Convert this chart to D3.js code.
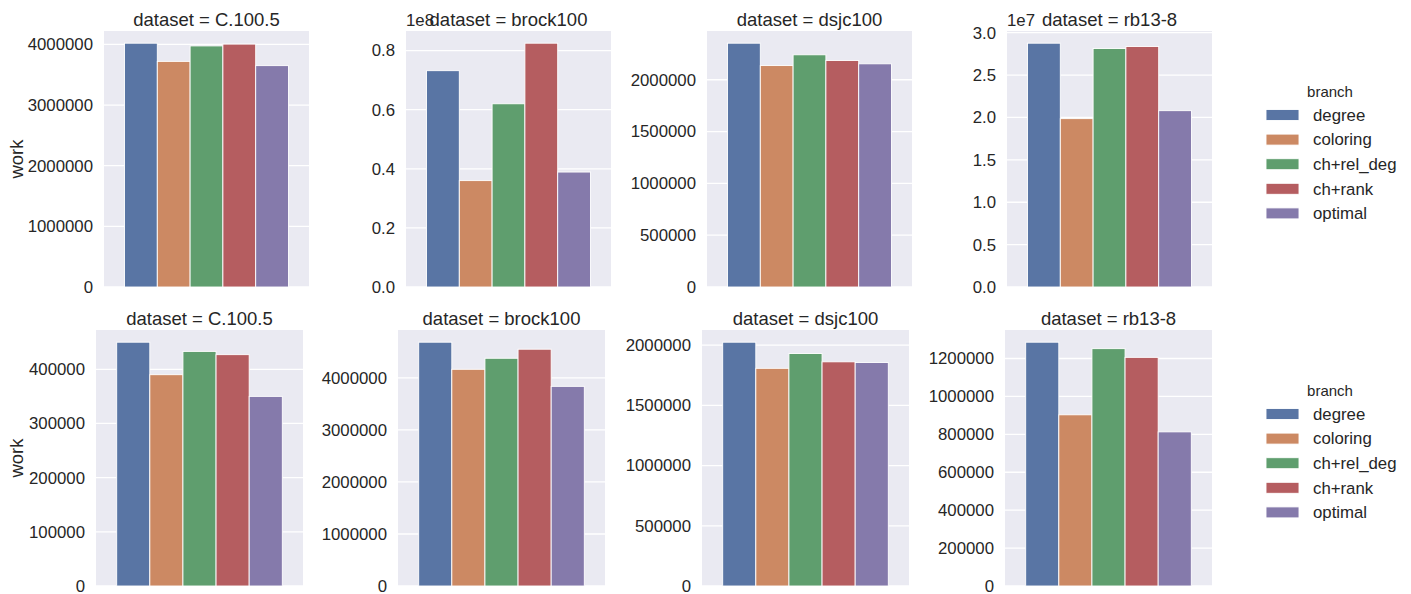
<!DOCTYPE html>
<html>
<head>
<meta charset="utf-8">
<script src="https://cdn.jsdelivr.net/npm/d3@7"></script>
<style>
  html, body { margin: 0; padding: 0; background: #ffffff; }
  text { font-family: "Liberation Sans", Arial, sans-serif; fill: #262626; }
</style>
</head>
<body>
<svg id="chart" width="1411" height="594"></svg>
<script>
// Branching strategies (hue) and their colours
const branches = ["degree", "coloring", "ch+rel_deg", "ch+rank", "optimal"];
const branchColors = ["#5975a4", "#cc8963", "#5f9e6e", "#b55d60", "#857aab"];

// Datasets shown in each row of facets
const datasets = ["C.100.5", "brock100", "dsjc100", "rb13-8"];

// Work per branching strategy, first row of facets
const workTopC1005   = [4020000, 3720000, 3975000, 4005000, 3650000];
const workTopBrock   = [73200000, 36000000, 62000000, 82500000, 38900000];
const workTopDsjc    = [2353000, 2137000, 2241000, 2186000, 2154000];
const workTopRb138   = [28760000, 19860000, 28130000, 28370000, 20800000];

// Work per branching strategy, second row of facets
const workBotC1005   = [450000, 390000, 433000, 427000, 350000];
const workBotBrock   = [4687000, 4166000, 4378000, 4552000, 3838000];
const workBotDsjc    = [2025000, 1808000, 1931000, 1862000, 1856000];
const workBotRb138   = [1286000, 903000, 1252000, 1206000, 813000];

// Tick values for each facet's y axis
const ticksTopC1005 = [0, 1000000, 2000000, 3000000, 4000000];
const ticksTopBrock = [0, 20000000, 40000000, 60000000, 80000000];
const ticksTopDsjc  = [0, 500000, 1000000, 1500000, 2000000];
const ticksTopRb138 = [0, 5000000, 10000000, 15000000, 20000000, 25000000, 30000000];
const ticksBotC1005 = [0, 100000, 200000, 300000, 400000];
const ticksBotBrock = [0, 1000000, 2000000, 3000000, 4000000];
const ticksBotDsjc  = [0, 500000, 1000000, 1500000, 2000000];
const ticksBotRb138 = [0, 200000, 400000, 600000, 800000, 1000000, 1200000];

// Offset exponents shown above an axis (null = plain integers)
const expTop = [null, 8, null, 7];
const expBot = [null, null, null, null];

const svg = d3.select("#chart");

// Facet grid geometry
const rows = [
  { top: 31, bottom: 287, lefts: [104, 406, 707, 1007], width: 205,
    values: [workTopC1005, workTopBrock, workTopDsjc, workTopRb138],
    ticks: [ticksTopC1005, ticksTopBrock, ticksTopDsjc, ticksTopRb138],
    exps: expTop, legendY: 92 },
  { top: 330, bottom: 586, lefts: [96, 398, 702, 1005], width: 207,
    values: [workBotC1005, workBotBrock, workBotDsjc, workBotRb138],
    ticks: [ticksBotC1005, ticksBotBrock, ticksBotDsjc, ticksBotRb138],
    exps: expBot, legendY: 391 }
];

rows.forEach(row => {
  row.lefts.forEach((left, i) => {
    const vals = row.values[i];
    const w = row.width;
    const g = svg.append("g").attr("transform", `translate(${left},0)`);

    const y = d3.scaleLinear()
      .domain([0, d3.max(vals) * 1.05])
      .range([row.bottom, row.top]);

    // The single x category spans [-0.5, 0.5]; bars fill the central 80%
    const x = d3.scaleBand()
      .domain(branches)
      .range([w * 0.1, w * 0.9])
      .paddingInner(0);

    // Axes background
    g.append("rect")
      .attr("x", 0).attr("y", row.top)
      .attr("width", w).attr("height", row.bottom - row.top)
      .attr("fill", "#eaeaf2");

    // Horizontal gridlines
    g.selectAll("line.grid")
      .data(row.ticks[i])
      .join("line")
      .attr("class", "grid")
      .attr("x1", 0).attr("x2", w)
      .attr("y1", d => y(d)).attr("y2", d => y(d))
      .attr("stroke", "#ffffff")
      .attr("stroke-width", 1.3);

    // Bars
    g.selectAll("rect.bar")
      .data(vals.map((v, k) => ({ branch: branches[k], value: v, color: branchColors[k] })))
      .join("rect")
      .attr("class", "bar")
      .attr("x", d => x(d.branch))
      .attr("width", x.bandwidth())
      .attr("y", d => y(d.value))
      .attr("height", d => y(0) - y(d.value))
      .attr("fill", d => d.color)
      .attr("stroke", "#ffffff")
      .attr("stroke-width", 0.9);

    // Y axis tick labels
    const exp = row.exps[i];
    const fmt = exp ? (d => (d / Math.pow(10, exp)).toFixed(1)) : d3.format("d");
    const axis = d3.axisLeft(y)
      .tickValues(row.ticks[i])
      .tickSize(0)
      .tickPadding(11)
      .tickFormat(fmt);
    const ax = g.append("g").call(axis);
    ax.select(".domain").remove();
    ax.selectAll("text")
      .attr("font-size", "16.8px")
      .attr("fill", "#262626")
      .style("font-family", '"Liberation Sans", Arial, sans-serif');

    // Axis offset text (scientific multiplier)
    if (exp) {
      g.append("text")
        .attr("x", 0).attr("y", row.top - 5)
        .attr("font-size", "16.8px")
        .text("1e" + exp);
    }

    // Facet title
    g.append("text")
      .attr("x", w / 2).attr("y", row.top - 5)
      .attr("text-anchor", "middle")
      .attr("font-size", "18.5px")
      .text("dataset = " + datasets[i]);

    // Y label on first column only
    if (i === 0) {
      const cy = (row.top + row.bottom) / 2;
      svg.append("text")
        .attr("transform", `translate(${23},${cy}) rotate(-90)`)
        .attr("text-anchor", "middle")
        .attr("font-size", "18.5px")
        .text("work");
    }
  });

  // Legend for the row
  const lg = svg.append("g").attr("transform", `translate(0,${row.legendY})`);
  lg.append("text")
    .attr("x", 1330).attr("y", 0)
    .attr("dy", "0.35em")
    .attr("text-anchor", "middle")
    .attr("font-size", "15px")
    .text("branch");
  branches.forEach((b, k) => {
    const cy = 23 + k * 24.6;
    lg.append("rect")
      .attr("x", 1266).attr("y", cy - 5.5)
      .attr("width", 33).attr("height", 11)
      .attr("fill", branchColors[k])
      .attr("stroke", "#ffffff")
      .attr("stroke-width", 0.9);
    lg.append("text")
      .attr("x", 1313).attr("y", cy)
      .attr("dy", "0.35em")
      .attr("font-size", "16.8px")
      .text(b);
  });
});
</script>
</body>
</html>
